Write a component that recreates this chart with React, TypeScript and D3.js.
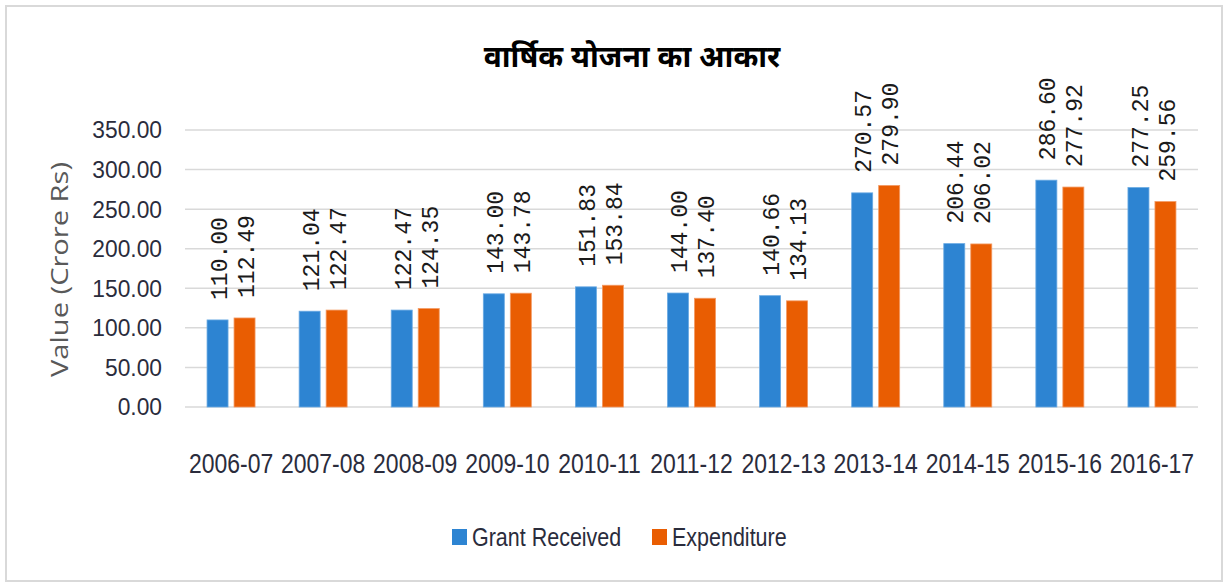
import React from 'react'
import * as d3 from 'd3'

const categories = ['2006-07', '2007-08', '2008-09', '2009-10', '2010-11', '2011-12', '2012-13', '2013-14', '2014-15', '2015-16', '2016-17']
const grantReceived = [110.0, 121.04, 122.47, 143.0, 151.83, 144.0, 140.66, 270.57, 206.44, 286.6, 277.25]
const expenditure = [112.49, 122.47, 124.35, 143.78, 153.84, 137.4, 134.13, 279.9, 206.02, 277.92, 259.56]
const seriesNames = ['Grant Received', 'Expenditure']
const yTicks = [0, 50, 100, 150, 200, 250, 300, 350]

const colors = ['#2D84D2', '#E95D02']
const W = 1226
const H = 585
// no narrow face installed, so Liberation Sans is squeezed horizontally
const narrow = '"Liberation Sans", Arial, sans-serif'

export default function App() {
  const x = d3.scaleBand<string>().domain(categories).range([185, 1198]).padding(0)
  const groupW = 48
  const x1 = d3.scaleBand<string>().domain(seriesNames).range([0, groupW]).paddingInner(0.222)
  const y = d3.scaleLinear().domain([0, 350]).range([407, 130])
  const values = [grantReceived, expenditure]

  return (
    <svg width={W} height={H} style={{ position: 'absolute', left: 0, top: 0, background: '#fff' }}>
      <rect x={6} y={6} width={W - 10} height={H - 10} fill="#fff" stroke="#d9d9d9" strokeWidth={2} />

      <text x={632} y={67} textAnchor="middle" fontSize={30} fontWeight="bold" fill="#000"
        fontFamily='"Noto Sans Devanagari", "Noto Sans", sans-serif'>
        वार्षिक योजना का आकार
      </text>

      {yTicks.map(t => (
        <g key={t}>
          <line x1={185} x2={1198} y1={y(t)} y2={y(t)} stroke="#d9d9d9" strokeWidth={1.5} />
          <text transform={`translate(162,${y(t)}) scale(0.95,1)`} dy="0.35em" textAnchor="end" fontSize={24}
            fill="#2a2c3c" fontFamily={narrow}>
            {t.toFixed(2)}
          </text>
        </g>
      ))}

      <text transform={`translate(60,${(162 + 377) / 2}) rotate(-90)`} textAnchor="middle" dy="0.35em"
        fontSize={24} fill="#595959" fontFamily='"Open Sans", sans-serif'
        textLength={215} lengthAdjust="spacingAndGlyphs">
        Value (Crore Rs)
      </text>

      {categories.map((c, i) => {
        const gx = x(c)! + (x.bandwidth() - groupW) / 2
        return (
          <g key={c}>
            {seriesNames.map((s, k) => {
              const v = values[k][i]
              const bx = gx + x1(s)!
              const cx = bx + x1.bandwidth() / 2
              return (
                <g key={s}>
                  <rect x={bx} y={y(v)} width={x1.bandwidth()} height={y(0) - y(v)} fill={colors[k]}
                    stroke={k === 0 ? '#6aaae3' : '#f39a63'} strokeWidth={0.8} />
                  <text transform={`translate(${cx + 1},${y(v) - 20}) rotate(-90)`} dy="0.35em" textAnchor="start"
                    fontSize={23} fill="#1a1a1a" fontFamily='"Liberation Mono", monospace'>
                    {v.toFixed(2)}
                  </text>
                </g>
              )
            })}
            <text transform={`translate(${x(c)! + x.bandwidth() / 2},463) scale(0.82,1)`} dy="0.35em"
              textAnchor="middle" fontSize={28} fill="#2a2c3c" fontFamily={narrow}>
              {c}
            </text>
          </g>
        )
      })}

      {seriesNames.map((s, k) => {
        const lx = k === 0 ? 452 : 652
        return (
          <g key={s}>
            <rect x={lx} y={529} width={15} height={16} fill={colors[k]} />
            <text transform={`translate(${lx + 20},537) scale(0.86,1)`} dy="0.35em" fontSize={25}
              fill="#2a2c3c" fontFamily={narrow}>{s}</text>
          </g>
        )
      })}
    </svg>
  )
}
